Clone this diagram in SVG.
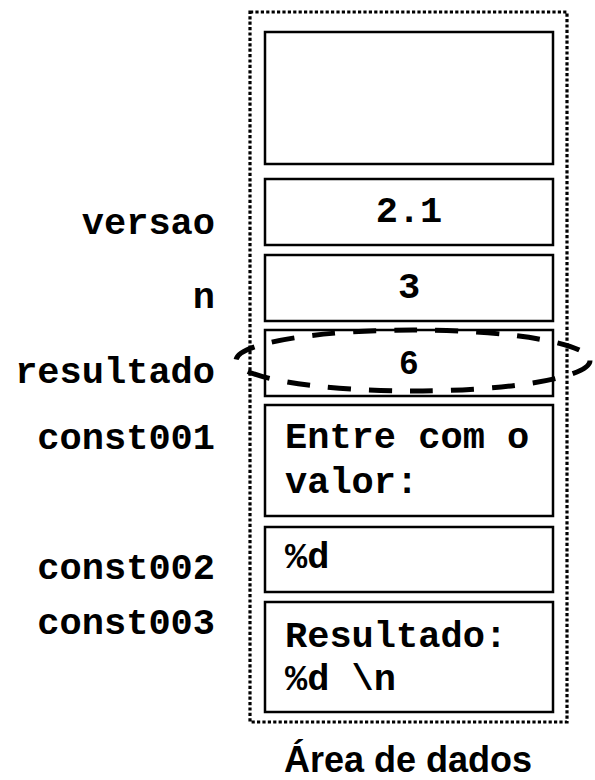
<svg xmlns="http://www.w3.org/2000/svg" width="595" height="780" viewBox="0 0 595 780">
  <style>
    .cell { fill: #ffffff; stroke: #000000; stroke-width: 2.5; }
    .area { fill: none; stroke: #000000; stroke-width: 3.2; stroke-dasharray: 3.2 2.2; }
    .mono { font-family: "Courier New", "Liberation Mono", monospace; font-weight: bold; font-size: 37px; fill: #000000; }
    .lbl { text-anchor: end; }
    .mid { text-anchor: middle; }
    .title { font-family: "Liberation Sans", Arial, sans-serif; font-weight: bold; font-size: 36px; fill: #000000; text-anchor: middle; }
    .hl { fill: none; stroke: #000000; stroke-width: 5; stroke-dasharray: 23 18; }
  </style>

  <g id="area">
    <rect class="area" x="250" y="12" width="317" height="710"/>
    <text class="title" x="408" y="772">Área de dados</text>
  </g>

  <g id="cell-empty">
    <rect class="cell" x="265" y="32" width="288" height="132"/>
  </g>

  <g id="cell-versao">
    <rect class="cell" x="265" y="179" width="288" height="66"/>
    <text class="mono mid" x="409" y="222">2.1</text>
    <text class="mono lbl" x="215" y="234">versao</text>
  </g>

  <g id="cell-n">
    <rect class="cell" x="265" y="255" width="288" height="66"/>
    <text class="mono mid" x="409" y="298">3</text>
    <text class="mono lbl" x="215" y="308">n</text>
  </g>

  <g id="cell-resultado">
    <rect class="cell" x="265" y="330" width="288" height="66"/>
    <text x="409" y="373.5" font-family="Liberation Sans, Arial, sans-serif" font-weight="bold" font-size="33" text-anchor="middle" fill="#000000">6</text>
    <text class="mono lbl" x="215" y="383">resultado</text>
  </g>

  <g id="cell-const001">
    <rect class="cell" x="265" y="405" width="288" height="111"/>
    <text class="mono" x="285" y="448">Entre com o</text>
    <text class="mono" x="285" y="493">valor:</text>
    <text class="mono lbl" x="215" y="449">const001</text>
  </g>

  <g id="cell-const002">
    <rect class="cell" x="265" y="527" width="288" height="65"/>
    <text class="mono" x="285" y="568">%d</text>
    <text class="mono lbl" x="215" y="579">const002</text>
  </g>

  <g id="cell-const003">
    <rect class="cell" x="265" y="602" width="288" height="110"/>
    <text class="mono" x="285" y="647">Resultado:</text>
    <text class="mono" x="285" y="690">%d \n</text>
    <text class="mono lbl" x="215" y="634">const003</text>
  </g>

  <g id="connectors">
    <ellipse id="highlight" class="hl" cx="413" cy="360.5" rx="177" ry="30.5"/>
  </g>
</svg>
